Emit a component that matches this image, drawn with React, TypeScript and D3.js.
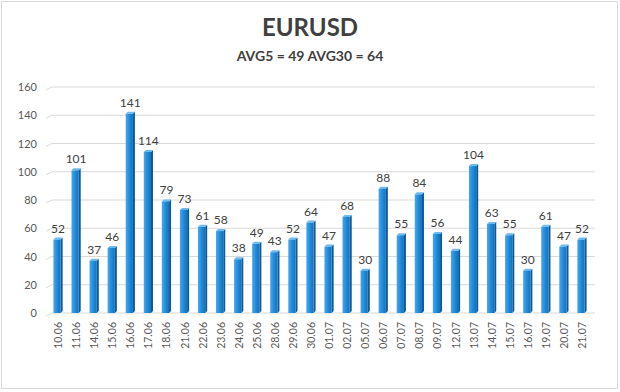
import * as d3 from "d3";

const dates = [
  "10.06", "11.06", "14.06", "15.06", "16.06", "17.06", "18.06", "21.06", "22.06", "23.06",
  "24.06", "25.06", "28.06", "29.06", "30.06", "01.07", "02.07", "05.07", "06.07", "07.07",
  "08.07", "09.07", "12.07", "13.07", "14.07", "15.07", "16.07", "19.07", "20.07", "21.07",
];
const values = [
  52, 101, 37, 46, 141, 114, 79, 73, 61, 58,
  38, 49, 43, 52, 64, 47, 68, 30, 88, 55,
  84, 56, 44, 104, 63, 55, 30, 61, 47, 52,
];
const yTicks = [0, 20, 40, 60, 80, 100, 120, 140, 160];
const title = "EURUSD";
const subtitle = "AVG5 = 49 AVG30 = 64";

const W = 620;
const H = 392;
const font = "Lato, 'Open Sans', sans-serif";

export default function App() {
  const x = d3.scaleBand<string>().domain(dates).range([49, 591]);
  const y = d3.scaleLinear().domain([0, 160]).range([313, 87]);
  const bw = x.bandwidth();
  const depth = 2;

  return (
    <svg
      width={W}
      height={H}
      viewBox={`0 0 ${W} ${H}`}
      style={{ position: "absolute", left: 0, top: 0, background: "#fff" }}
    >
      <defs>
        <linearGradient id="barFront" x1="0" x2="1" y1="0" y2="0">
          <stop offset="0%" stopColor="#4aa6ea" />
          <stop offset="55%" stopColor="#1e8ad8" />
          <stop offset="100%" stopColor="#1470bd" />
        </linearGradient>
      </defs>
      <rect x={1.5} y={1.5} width={W - 4} height={H - 5} fill="#fff" stroke="#d9d9d9" />

      <text x={310} y={36} textAnchor="middle" fontFamily={font} fontWeight="bold" fontSize={24} fill="#404040">
        {title}
      </text>
      <text x={310} y={61} textAnchor="middle" fontFamily={font} fontWeight="bold" fontSize={14} fill="#404040">
        {subtitle}
      </text>

      {yTicks.map((t) => (
        <g key={t}>
          <path
            d={`M46,${y(t) + 3}L${52},${y(t)}L595,${y(t)}`}
            fill="none"
            stroke="#d9d9d9"
            strokeWidth={1}
          />
          <text x={37} y={y(t) + 4} textAnchor="end" fontFamily={font} fontSize={11} fill="#595959">
            {t}
          </text>
        </g>
      ))}

      {dates.map((d, i) => {
        const c = (x(d) as number) + bw / 2;
        const v = values[i];
        const top = y(v);
        const base = y(0);
        const fw = bw * 0.4;
        const x0 = c - fw / 2 - 1;
        const x1 = x0 + fw;
        return (
          <g key={d}>
            <polygon
              points={`${x1},${top} ${x1 + depth},${top - depth} ${x1 + depth},${base - depth} ${x1},${base}`}
              fill="#0b5a99"
            />
            <polygon
              points={`${x0},${top} ${x0 + depth},${top - depth} ${x1 + depth},${top - depth} ${x1},${top}`}
              fill="#6bbaf0"
            />
            <rect x={x0} y={top} width={fw} height={base - top} fill="url(#barFront)" />
            <text
              x={c}
              y={top - 7}
              textAnchor="middle"
              fontFamily={font}
              fontSize={12}
              fill="#404040"
            >
              {v}
            </text>
            <text
              transform={`translate(${c + 4},322) rotate(-90)`}
              textAnchor="end"
              fontFamily={font}
              fontSize={10.5}
              fill="#595959"
            >
              {d}
            </text>
          </g>
        );
      })}
    </svg>
  );
}
